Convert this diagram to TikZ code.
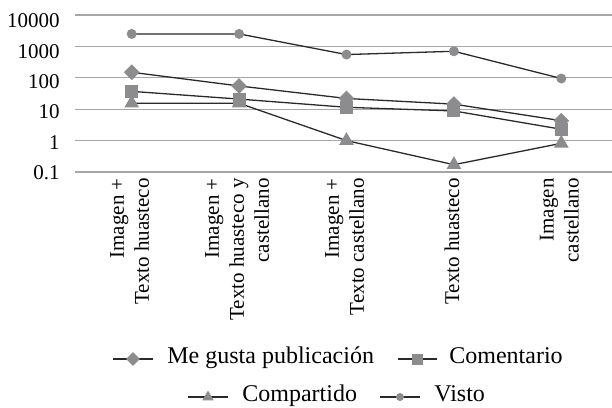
\documentclass[tikz,border=0pt]{standalone}
\usepackage{fontspec}
\setmainfont{Liberation Serif}
\usepackage{xcolor}
\usetikzlibrary{shapes,positioning,calc}
\definecolor{rejilla}{HTML}{A6A6A6}
\definecolor{marca}{HTML}{8C8C8E}
\definecolor{linea}{HTML}{2A2A2A}
\tikzset{
    serie/.style={draw=linea, line width=0.65pt},
    rombo/.style={diamond, fill=marca, inner sep=0pt, minimum size=8pt},
    cuadro/.style={rectangle, fill=marca, inner sep=0pt, minimum size=6.5pt},
    triang/.style={regular polygon, regular polygon sides=3, fill=marca, inner sep=0pt, minimum size=8.5pt},
    punto/.style={circle, fill=marca, inner sep=0pt, minimum size=5pt},
    eje/.style={font=\fontsize{10.5}{12.5}\selectfont, inner sep=0pt},
    leyenda/.style={font=\fontsize{12}{14}\selectfont, inner sep=0pt, yshift=-2.25pt}
}

\begin{document}
\begin{tikzpicture}[x=0.5pt, y=-0.5pt]
    \useasboundingbox (0,0) rectangle (612,408);
    % escala logaritmica
    \begin{scope}[shift={(0,140.6)}, y=15.7pt]
        \foreach \d in {-1,...,4}
            \draw[rejilla, line width=0.65pt] (75,\d) -- (612,\d);
        \foreach \i/\v in {1/2500,2/2500,3/550,4/700,5/95}
            \coordinate (v\i) at ({78+107.4*(\i-0.5)},{log10(\v)});
        \foreach \i/\v in {1/150,2/55,3/22,4/14.5,5/4.3}
            \coordinate (g\i) at ({78+107.4*(\i-0.5)},{log10(\v)});
        \foreach \i/\v in {1/37,2/21,3/11.5,4/8.8,5/2.3}
            \coordinate (c\i) at ({78+107.4*(\i-0.5)},{log10(\v)});
        \foreach \i/\v in {1/15.5,2/15.5,3/1,4/0.17,5/0.82}
            \coordinate (s\i) at ({78+107.4*(\i-0.5)},{log10(\v)});
    \end{scope}
    \draw[serie] (g1) -- (g2) -- (g3) -- (g4) -- (g5);
    \draw[serie] (c1) -- (c2) -- (c3) -- (c4) -- (c5);
    \draw[serie] (s1) -- (s2) -- (s3) -- (s4) -- (s5);
    \draw[serie] (v1) -- (v2) -- (v3) -- (v4) -- (v5);
    \foreach \i in {1,...,5} {
        \node[rombo] (mg\i) at (g\i) {};
        \node[cuadro] (mc\i) at (c\i) {};
        \node[triang] (ms\i) at (s\i) {};
        \node[punto] (mv\i) at (v\i) {};
    }
    % etiquetas
    \foreach \n/\t/\yy in {a/10000/20.8, b/1000/51.2, c/100/81.7, d/10/112.1, e/1/142.6, f/0.1/173}
        \node[eje, anchor=east] (tick\n) at (60,\yy) {\t};
    \foreach \i/\t in {1/{Imagen +\\Texto huasteco}, 2/{Imagen +\\Texto huasteco y\\castellano},
                      3/{Imagen +\\Texto castellano}, 4/{Texto huasteco}, 5/{Imagen\\castellano}}
        \node[eje, rotate=90, anchor=east, align=right] (cat\i) at ({76+107.4*(\i-0.5)},178) {\t};
    % leyenda
    \coordinate (la1) at (113,359); \coordinate (lb1) at (153,359);
    \coordinate (la2) at (398,359); \coordinate (lb2) at (437,359);
    \coordinate (la3) at (188,397); \coordinate (lb3) at (228,397);
    \coordinate (la4) at (380,397); \coordinate (lb4) at (420,397);
    \foreach \k in {1,...,4}
        \draw[serie] (la\k) -- (lb\k);
    \node[rombo, minimum size=7pt] at ($(la1)!0.5!(lb1)$) {};
    \node[cuadro, minimum size=5.5pt] at ($(la2)!0.5!(lb2)$) {};
    \node[triang, minimum size=6.5pt] at ($(la3)!0.5!(lb3)$) {};
    \node[punto, minimum size=4pt] at ($(la4)!0.5!(lb4)$) {};
    \node[leyenda, base right=7pt of lb1] (ley1) {Me gusta publicación};
    \node[leyenda, base right=6pt of lb2] (ley2) {Comentario};
    \node[leyenda, base right=7pt of lb3] (ley3) {Compartido};
    \node[leyenda, base right=7pt of lb4] (ley4) {Visto};
\end{tikzpicture}
\end{document}
